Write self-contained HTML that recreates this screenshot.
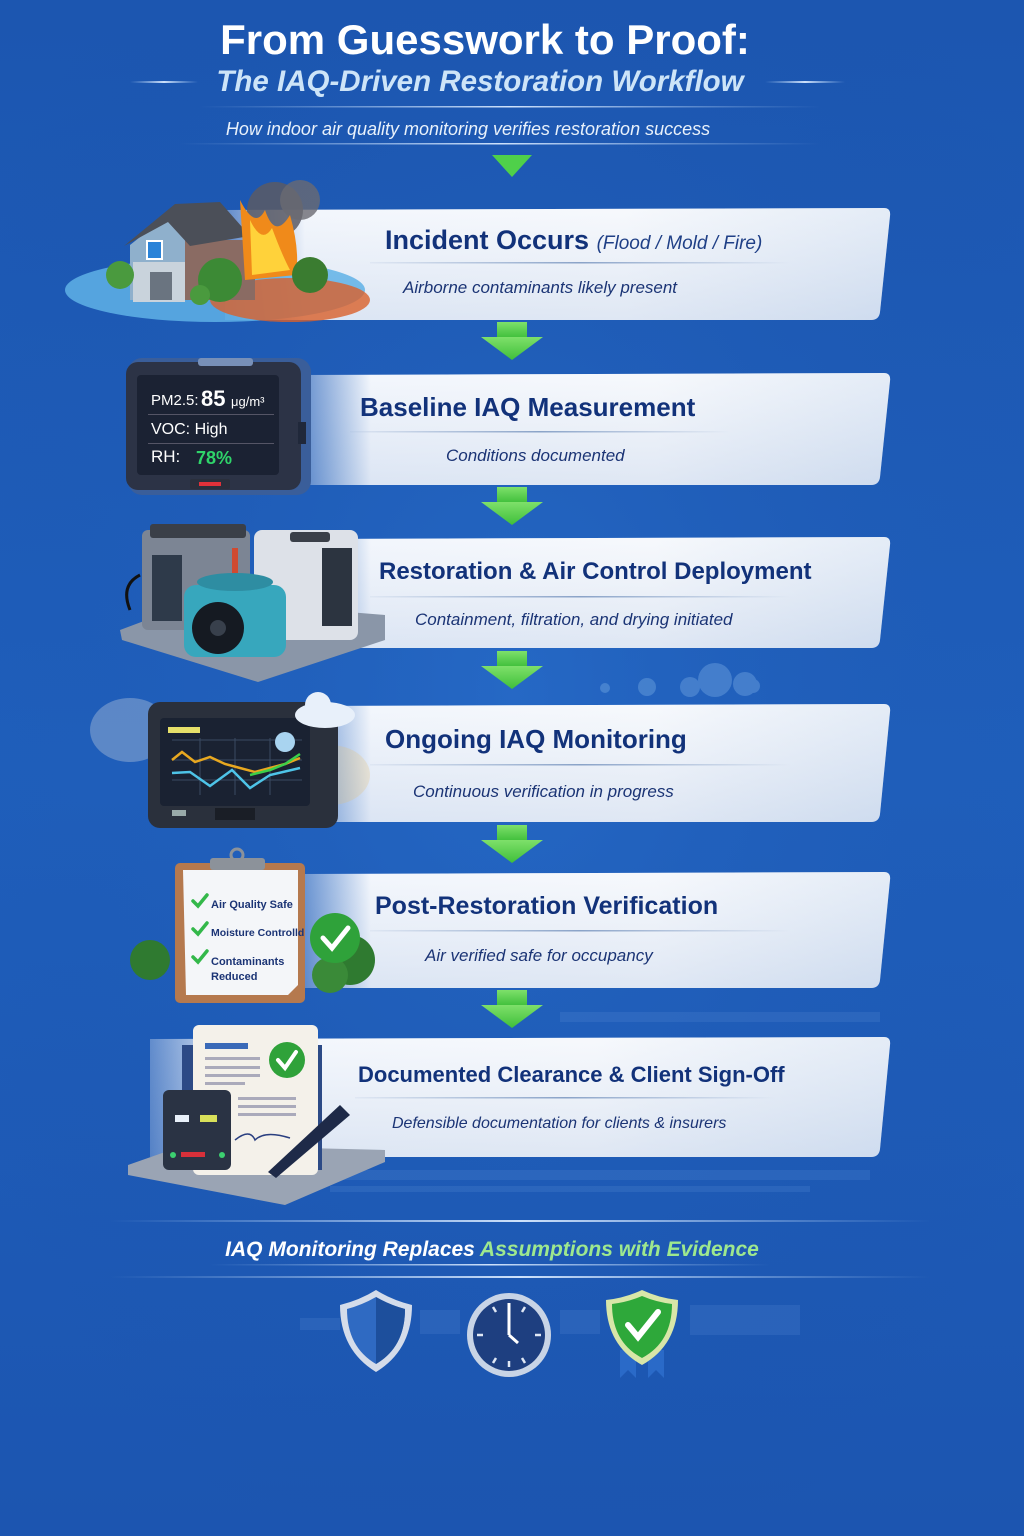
<!DOCTYPE html>
<html><head><meta charset="utf-8"><style>
html,body{margin:0;padding:0;width:1024px;height:1536px;overflow:hidden;background:#1d5ab5}
svg{display:block}
text{font-family:"Liberation Sans",sans-serif}
</style></head><body>
<svg width="1024" height="1536" viewBox="0 0 1024 1536" xmlns="http://www.w3.org/2000/svg">
<defs>
<linearGradient id="bg" x1="0" y1="0" x2="0" y2="1">
<stop offset="0" stop-color="#1c56b0"/><stop offset="0.5" stop-color="#1f5fbc"/><stop offset="1" stop-color="#1c55b0"/>
</linearGradient>
<radialGradient id="glow" cx="0.5" cy="0.45" r="0.6">
<stop offset="0" stop-color="#2a6fcc" stop-opacity="0.6"/><stop offset="1" stop-color="#1a4fa5" stop-opacity="0"/>
</radialGradient>
<linearGradient id="card" x1="0" y1="0" x2="1" y2="0">
<stop offset="0" stop-color="#dfe9f7" stop-opacity="0"/><stop offset="0.12" stop-color="#eef3fb"/><stop offset="0.6" stop-color="#f3f6fb"/><stop offset="1" stop-color="#d9e4f3"/>
</linearGradient>
<linearGradient id="cardv" x1="0" y1="0" x2="0" y2="1">
<stop offset="0" stop-color="#fff" stop-opacity="0.3"/><stop offset="1" stop-color="#b9cbe6" stop-opacity="0.35"/>
</linearGradient>
<linearGradient id="arr" x1="0" y1="0" x2="0" y2="1">
<stop offset="0" stop-color="#7ee06a"/><stop offset="1" stop-color="#3fbf3a"/>
</linearGradient>
<linearGradient id="line" x1="0" y1="0" x2="1" y2="0">
<stop offset="0" stop-color="#9fc3f0" stop-opacity="0"/><stop offset="0.5" stop-color="#cfe2fb"/><stop offset="1" stop-color="#9fc3f0" stop-opacity="0"/>
</linearGradient>
<linearGradient id="dline" x1="0" y1="0" x2="1" y2="0">
<stop offset="0" stop-color="#8aa3c8" stop-opacity="0.1"/><stop offset="0.5" stop-color="#8aa3c8"/><stop offset="1" stop-color="#8aa3c8" stop-opacity="0"/>
</linearGradient>
<g id="arrow"><rect x="-15" y="0" width="30" height="16" fill="url(#arr)"/><path d="M-31 15 L31 15 L0 38 Z" fill="url(#arr)"/></g>
</defs>
<rect width="1024" height="1536" fill="url(#bg)"/>
<rect width="1024" height="1536" fill="url(#glow)"/>

<!-- header -->
<text x="485" y="54" text-anchor="middle" font-size="42" font-weight="bold" fill="#ffffff">From Guesswork to Proof:</text>
<text x="480" y="91" text-anchor="middle" font-size="29.5" font-weight="bold" font-style="italic" fill="#cde4f8">The IAQ-Driven Restoration Workflow</text>
<rect x="130" y="81" width="68" height="2" fill="url(#line)"/>
<rect x="765" y="81" width="80" height="2" fill="url(#line)"/>
<rect x="200" y="106" width="620" height="1.5" fill="url(#line)"/>
<text x="468" y="135" text-anchor="middle" font-size="18" font-style="italic" fill="#e8f1fb">How indoor air quality monitoring verifies restoration success</text>
<rect x="180" y="143" width="640" height="1.5" fill="url(#line)"/>
<path d="M492 155 L532 155 L512 177 Z" fill="#4fd04a"/>

<!-- cards -->
<g>
<path d="M225 210 L884 208 Q891 208 890 216 L880 312 Q879 320 871 320 L225 320 Z" fill="url(#card)"/>
<path d="M225 210 L884 208 Q891 208 890 216 L880 312 Q879 320 871 320 L225 320 Z" fill="url(#cardv)"/>
<path d="M300 375 L884 373 Q891 373 890 381 L880 477 Q879 485 871 485 L300 485 Z" fill="url(#card)"/>
<path d="M300 375 L884 373 Q891 373 890 381 L880 477 Q879 485 871 485 L300 485 Z" fill="url(#cardv)"/>
<path d="M300 539 L884 537 Q891 537 890 545 L880 640 Q879 648 871 648 L300 648 Z" fill="url(#card)"/>
<path d="M300 539 L884 537 Q891 537 890 545 L880 640 Q879 648 871 648 L300 648 Z" fill="url(#cardv)"/>
<path d="M300 706 L884 704 Q891 704 890 712 L880 814 Q879 822 871 822 L300 822 Z" fill="url(#card)"/>
<path d="M300 706 L884 704 Q891 704 890 712 L880 814 Q879 822 871 822 L300 822 Z" fill="url(#cardv)"/>
<path d="M300 874 L884 872 Q891 872 890 880 L880 980 Q879 988 871 988 L300 988 Z" fill="url(#card)"/>
<path d="M300 874 L884 872 Q891 872 890 880 L880 980 Q879 988 871 988 L300 988 Z" fill="url(#cardv)"/>
<path d="M150 1039 L884 1037 Q891 1037 890 1045 L880 1149 Q879 1157 871 1157 L150 1157 Z" fill="url(#card)"/>
<path d="M150 1039 L884 1037 Q891 1037 890 1045 L880 1149 Q879 1157 871 1157 L150 1157 Z" fill="url(#cardv)"/>
</g>

<!-- arrows -->
<use href="#arrow" x="512" y="322"/>
<use href="#arrow" x="512" y="487"/>
<use href="#arrow" x="512" y="651"/>
<use href="#arrow" x="512" y="825"/>
<use href="#arrow" x="512" y="990"/>

<!-- clouds deco -->
<g fill="#6fa3e0" opacity="0.45">
<circle cx="605" cy="688" r="5"/><circle cx="647" cy="687" r="9"/><circle cx="690" cy="687" r="10"/><circle cx="715" cy="680" r="17"/><circle cx="745" cy="684" r="12"/><circle cx="753" cy="686" r="7"/>
</g>
<!-- pixel decos -->
<g fill="#5b8fd8" opacity="0.22">
<rect x="560" y="1012" width="320" height="10"/>
<rect x="330" y="1170" width="540" height="10"/>
<rect x="330" y="1186" width="480" height="6"/>
<rect x="300" y="1318" width="40" height="12"/>
<rect x="420" y="1310" width="40" height="24"/>
<rect x="560" y="1310" width="40" height="24"/>
<rect x="690" y="1305" width="110" height="30"/>
</g>

<!-- card texts -->
<text x="385" y="249" font-size="27" font-weight="bold" fill="#12327a">Incident Occurs <tspan font-size="19" font-weight="normal" font-style="italic" fill="#1f3f86">(Flood / Mold / Fire)</tspan></text>
<rect x="370" y="262" width="420" height="1.5" fill="url(#dline)"/>
<text x="403" y="293" font-size="17" font-style="italic" fill="#1b3475">Airborne contaminants likely present</text>

<text x="360" y="416" font-size="26" font-weight="bold" fill="#12327a">Baseline IAQ Measurement</text>
<rect x="350" y="431" width="380" height="1.5" fill="url(#dline)"/>
<text x="446" y="461" font-size="17" font-style="italic" fill="#1b3475">Conditions documented</text>

<text x="379" y="579" font-size="24" font-weight="bold" fill="#12327a">Restoration &amp; Air Control Deployment</text>
<rect x="370" y="596" width="420" height="1.5" fill="url(#dline)"/>
<text x="415" y="625" font-size="17" font-style="italic" fill="#1b3475">Containment, filtration, and drying initiated</text>

<text x="385" y="748" font-size="26" font-weight="bold" fill="#12327a">Ongoing IAQ Monitoring</text>
<rect x="370" y="764" width="420" height="1.5" fill="url(#dline)"/>
<text x="413" y="797" font-size="17" font-style="italic" fill="#1b3475">Continuous verification in progress</text>

<text x="375" y="914" font-size="25" font-weight="bold" fill="#12327a">Post-Restoration Verification</text>
<rect x="370" y="930" width="420" height="1.5" fill="url(#dline)"/>
<text x="425" y="961" font-size="17" font-style="italic" fill="#1b3475">Air verified safe for occupancy</text>

<text x="358" y="1082" font-size="22" font-weight="bold" fill="#12327a">Documented Clearance &amp; Client Sign-Off</text>
<rect x="355" y="1097" width="420" height="1.5" fill="url(#dline)"/>
<text x="392" y="1128" font-size="16" font-style="italic" fill="#1b3475">Defensible documentation for clients &amp; insurers</text>

<!-- ILLUSTRATION 1: house -->
<g>
<ellipse cx="215" cy="290" rx="150" ry="32" fill="#5fb2e6" opacity="0.85"/>
<ellipse cx="290" cy="300" rx="80" ry="22" fill="#d9602a" opacity="0.8"/>
<circle cx="275" cy="210" r="28" fill="#5a5a64" opacity="0.85"/><circle cx="300" cy="200" r="20" fill="#6a6a72" opacity="0.8"/>
<path d="M130 245 L168 215 L240 250 L240 300 L130 300 Z" fill="#8fb0cc"/>
<rect x="185" y="240" width="70" height="60" fill="#8a6b63"/>
<path d="M124 246 L175 204 L220 202 L250 236 L190 246 L168 222 Z" fill="#4b4f58"/>
<rect x="133" y="262" width="52" height="40" fill="#c9d3dc"/>
<rect x="147" y="241" width="15" height="18" fill="#2a83d8" stroke="#fff" stroke-width="2"/>
<rect x="150" y="272" width="22" height="28" fill="#6a7480"/>
<path d="M240 200 Q255 230 265 210 Q275 240 290 215 Q300 250 296 275 L245 280 Z" fill="#f08a1a"/>
<path d="M250 220 Q262 245 272 228 Q282 255 290 270 L252 275 Z" fill="#ffd23a"/>
<circle cx="220" cy="280" r="22" fill="#3c8a35"/><circle cx="200" cy="295" r="10" fill="#4a9a3e"/><circle cx="310" cy="275" r="18" fill="#3a7c30"/><circle cx="120" cy="275" r="14" fill="#4a9a3e"/>
</g>

<!-- ILLUSTRATION 2: monitor -->
<g>
<rect x="128" y="358" width="183" height="137" rx="14" fill="#3a5e9a"/>
<rect x="126" y="362" width="175" height="128" rx="12" fill="#2c3346"/>
<rect x="137" y="375" width="142" height="100" rx="4" fill="#1b2233"/>
<rect x="198" y="358" width="55" height="8" rx="3" fill="#7890b8"/>
<rect x="190" y="479" width="40" height="10" rx="2" fill="#2a2f3c"/><rect x="199" y="482" width="22" height="4" fill="#e0313a"/>
<rect x="298" y="422" width="8" height="22" fill="#20283a"/>
<text x="151" y="405" font-size="15" fill="#fff">PM2.5:</text>
<text x="201" y="406" font-size="22" font-weight="bold" fill="#fff">85</text>
<text x="231" y="406" font-size="13" fill="#fff">μg/m³</text>
<rect x="148" y="414" width="126" height="1" fill="#556"/>
<text x="151" y="434" font-size="16" fill="#fff">VOC:  High</text>
<rect x="148" y="443" width="126" height="1" fill="#556"/>
<text x="151" y="462" font-size="17" fill="#fff">RH:</text>
<text x="196" y="464" font-size="18" font-weight="bold" fill="#2fd46a">78%</text>
</g>

<!-- ILLUSTRATION 3: equipment -->
<g>
<path d="M120 630 L200 600 L385 615 L385 640 L258 682 L122 640 Z" fill="#8a96a8"/>
<rect x="142" y="530" width="108" height="100" rx="6" fill="#7c8594"/>
<rect x="150" y="524" width="96" height="14" rx="3" fill="#3a3f48"/>
<rect x="152" y="555" width="30" height="66" fill="#2e3a4a"/>
<rect x="232" y="548" width="6" height="60" fill="#d04a30"/>
<rect x="254" y="530" width="104" height="110" rx="8" fill="#dde1e8"/>
<rect x="290" y="532" width="40" height="10" rx="3" fill="#3a3f48"/>
<rect x="322" y="548" width="30" height="78" fill="#2c3440"/>
<rect x="184" y="585" width="102" height="72" rx="12" fill="#37a7bd"/>
<ellipse cx="235" cy="582" rx="38" ry="9" fill="#2e8da2"/>
<circle cx="218" cy="628" r="26" fill="#151a22"/><circle cx="218" cy="628" r="8" fill="#38404c"/>
<path d="M140 575 Q120 585 130 610" stroke="#111" stroke-width="3" fill="none"/>
</g>

<!-- ILLUSTRATION 4: monitoring device -->
<g>
<ellipse cx="130" cy="730" rx="40" ry="32" fill="#b9c8dc" opacity="0.4"/>
<ellipse cx="330" cy="775" rx="40" ry="30" fill="#e8c070" opacity="0.25"/>
<rect x="148" y="702" width="190" height="126" rx="12" fill="#2a303c"/>
<rect x="160" y="718" width="150" height="88" rx="4" fill="#1a2232"/>
<rect x="168" y="727" width="32" height="6" fill="#e6e06a"/>
<g stroke="#3a4a62" stroke-width="1"><line x1="172" y1="740" x2="302" y2="740"/><line x1="172" y1="760" x2="302" y2="760"/><line x1="172" y1="780" x2="302" y2="780"/><line x1="200" y1="738" x2="200" y2="795"/><line x1="235" y1="738" x2="235" y2="795"/><line x1="270" y1="738" x2="270" y2="795"/></g>
<polyline points="172,760 182,752 195,762 210,757 225,764 240,768 255,772 270,768 285,764 300,758" stroke="#e8a820" stroke-width="2.5" fill="none"/>
<polyline points="172,773 190,772 210,786 232,770 250,788 270,775 300,768" stroke="#4ec4e8" stroke-width="2.5" fill="none"/>
<polyline points="250,775 270,770 285,764 300,754" stroke="#3cd04a" stroke-width="2.5" fill="none"/>
<rect x="172" y="810" width="14" height="6" fill="#9aa"/><rect x="215" y="808" width="40" height="12" fill="#1a1e26"/>
<ellipse cx="325" cy="715" rx="30" ry="13" fill="#e8f0fa"/><circle cx="318" cy="705" r="13" fill="#e8f0fa"/>
<circle cx="285" cy="742" r="10" fill="#a9d4f0"/>
</g>

<!-- ILLUSTRATION 5: clipboard -->
<g>
<circle cx="150" cy="960" r="20" fill="#2f7a30"/><circle cx="350" cy="960" r="25" fill="#2f7a30"/><circle cx="330" cy="975" r="18" fill="#3a8a38"/>
<rect x="175" y="863" width="130" height="140" rx="5" fill="#b5794e"/>
<path d="M183 870 L298 870 L298 985 L288 995 L186 995 Z" fill="#f4f6f9"/>
<rect x="210" y="858" width="55" height="12" rx="3" fill="#8c929a"/><circle cx="237" cy="855" r="6" fill="none" stroke="#8c929a" stroke-width="3"/>
<g stroke="#33b84a" stroke-width="3.5" fill="none" stroke-linecap="round"><path d="M193 901 L198 906 L207 895"/><path d="M193 929 L198 934 L207 923"/><path d="M193 957 L198 962 L207 951"/></g>
<text x="211" y="908" font-size="11" font-weight="bold" fill="#1b3475">Air Quality Safe</text>
<text x="211" y="936" font-size="10.5" font-weight="bold" fill="#1b3475">Moisture Controlld</text>
<text x="211" y="965" font-size="11" font-weight="bold" fill="#1b3475">Contaminants</text>
<text x="211" y="980" font-size="11" font-weight="bold" fill="#1b3475">Reduced</text>
<circle cx="335" cy="938" r="25" fill="#2fa23a"/>
<path d="M323 938 L332 948 L348 928" stroke="#fff" stroke-width="5" fill="none" stroke-linecap="round"/>
</g>

<!-- ILLUSTRATION 6: documents -->
<g>
<path d="M128 1165 L185 1145 L385 1150 L385 1162 L285 1205 L128 1175 Z" fill="#9aa4b4"/>
<rect x="182" y="1045" width="140" height="125" fill="#2c4a86"/>
<rect x="193" y="1025" width="125" height="150" rx="6" fill="#f4f1ea"/>
<rect x="205" y="1043" width="43" height="6" fill="#3a6ab8"/>
<g fill="#aab"><rect x="205" y="1057" width="55" height="3"/><rect x="205" y="1066" width="55" height="3"/><rect x="205" y="1074" width="55" height="3"/><rect x="205" y="1082" width="40" height="3"/><rect x="238" y="1097" width="58" height="3"/><rect x="238" y="1105" width="58" height="3"/><rect x="238" y="1113" width="58" height="3"/></g>
<circle cx="287" cy="1060" r="18" fill="#2fa23a"/><path d="M278 1060 L285 1068 L296 1052" stroke="#fff" stroke-width="4" fill="none" stroke-linecap="round"/>
<path d="M235 1140 Q250 1128 255 1140 Q265 1130 290 1138" stroke="#2a3f80" stroke-width="1.5" fill="none"/>
<rect x="163" y="1090" width="68" height="80" rx="6" fill="#2a3344"/>
<rect x="175" y="1115" width="14" height="7" fill="#e8f0fa"/><rect x="200" y="1115" width="17" height="7" fill="#d8e05a"/>
<rect x="181" y="1152" width="24" height="5" fill="#d8303a"/><circle cx="173" cy="1155" r="3" fill="#3cd070"/><circle cx="222" cy="1155" r="3" fill="#3cd070"/>
<path d="M268 1172 L340 1105 L350 1115 L276 1178 Z" fill="#1e2a48"/>
</g>

<!-- bottom -->
<rect x="110" y="1220" width="820" height="2" fill="url(#line)"/>
<text x="492" y="1256" text-anchor="middle" font-size="21" font-weight="bold" font-style="italic" fill="#ffffff">IAQ Monitoring Replaces <tspan fill="#9ee88e">Assumptions with Evidence</tspan></text>
<rect x="210" y="1264" width="560" height="1.5" fill="url(#line)"/>
<rect x="110" y="1276" width="820" height="2" fill="url(#line)"/>

<!-- shield -->
<path d="M340 1305 Q360 1300 376 1290 Q392 1300 412 1305 Q412 1350 376 1372 Q340 1350 340 1305 Z" fill="#d4dcea"/>
<path d="M347 1309 Q362 1305 376 1297 Q390 1305 405 1309 Q405 1347 376 1364 Q347 1347 347 1309 Z" fill="#2f6ac2"/>
<path d="M376 1297 Q390 1305 405 1309 Q405 1347 376 1364 Z" fill="#1d4f9c"/>
<!-- clock -->
<circle cx="509" cy="1335" r="42" fill="#c8d4e6"/>
<circle cx="509" cy="1335" r="36" fill="#1e3f80"/>
<g stroke="#e0e8f5" stroke-width="2.5"><line x1="509" y1="1303" x2="509" y2="1309"/><line x1="509" y1="1361" x2="509" y2="1367"/><line x1="477" y1="1335" x2="483" y2="1335"/><line x1="535" y1="1335" x2="541" y2="1335"/><line x1="493" y1="1307" x2="496" y2="1312"/><line x1="525" y1="1307" x2="522" y2="1312"/><line x1="493" y1="1363" x2="496" y2="1358"/><line x1="525" y1="1363" x2="522" y2="1358"/></g>
<line x1="509" y1="1335" x2="509" y2="1303" stroke="#fff" stroke-width="3"/>
<line x1="509" y1="1335" x2="518" y2="1343" stroke="#fff" stroke-width="3"/>
<!-- green shield -->
<path d="M620 1350 L620 1378 L628 1370 L636 1378 L636 1350 Z" fill="#2a6ac8"/>
<path d="M648 1350 L648 1378 L656 1370 L664 1378 L664 1350 Z" fill="#2a6ac8"/>
<path d="M606 1300 Q625 1298 642 1290 Q659 1298 678 1300 Q678 1345 642 1365 Q606 1345 606 1300 Z" fill="#d8e6a8"/>
<path d="M612 1304 Q628 1302 642 1296 Q656 1302 672 1304 Q672 1342 642 1358 Q612 1342 612 1304 Z" fill="#2ea83a"/>
<path d="M628 1325 L638 1337 L658 1312" stroke="#fff" stroke-width="6" fill="none" stroke-linecap="round"/>
</svg>
</body></html>
